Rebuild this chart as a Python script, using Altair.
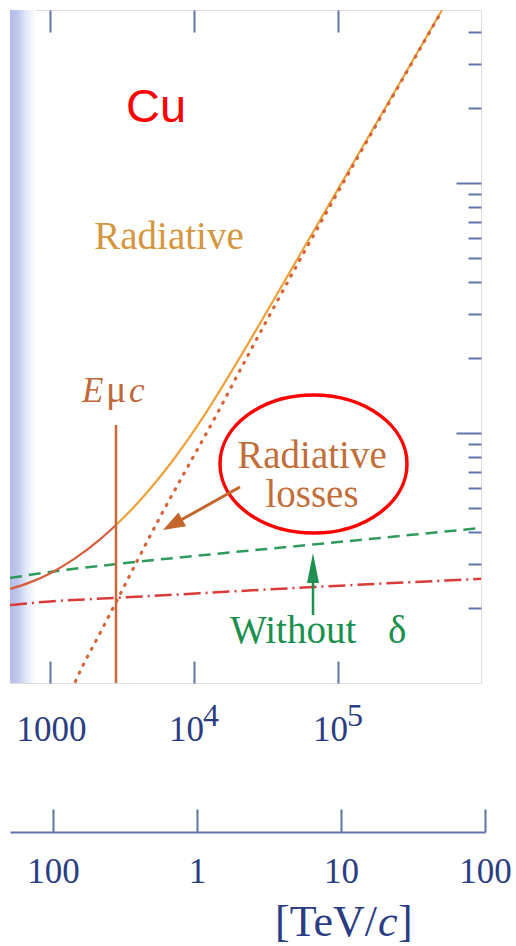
import altair as alt
import pandas as pd

# ---------------- values ----------------
# x: beta*gamma of the muon (log), y: stopping power (log, arbitrary units)
total_bg = [527.5, 726.3, 1000, 1492, 2225, 2873, 3771, 4948, 7382, 11007,
            18660, 29664, 54470, 121150, 269600, 527600]
total_val = [2.377, 2.526, 2.744, 3.150, 3.753, 4.285, 5.012, 5.970, 7.980, 11.07,
             18.03, 28.31, 51.76, 114.3, 252.4, 492.0]

rad_bg = [1421, 1492, 2225, 2920, 4019, 5806, 8942, 14444, 21892, 31623, 54470,
          121150, 269600, 527600]
rad_val = [0.94, 1.005, 1.583, 2.14, 3.07, 4.61, 7.24, 11.92, 18.78, 27.84, 49.39,
           111.9, 249.9, 489.5]

nodelta_bg = [527.5, 1000, 2873, 10000, 67060, 984130]
nodelta_val = [2.63, 2.78, 2.99, 3.22, 3.58, 4.17]

bethe_bg = [527.5, 1000, 2873, 67060, 984130]
bethe_val = [2.05, 2.12, 2.19, 2.42, 2.61]

E_MUC = 2873          # critical energy marker (beta*gamma)
EMUC_TOP = 10.76      # top of the E_muc line
BAND_END = 800        # end of the shaded band on the left

bg_ticks = [1000, 10000, 100000]
bg_exp = ["4", "5"]
bg_exp_at = [10000, 100000]
p_ticks = [100, 1000, 10000, 100000]          # momentum [GeV/c]
y_major = [10, 100]
y_minor = [2, 3, 4, 5, 6, 7, 8, 9, 20, 30, 40, 50, 60, 70, 80, 90, 200, 300, 400]

# ---------------- layout / style ----------------
W, H = 471, 673
XMIN, XMAX = 527.5, 984130
YMIN, YMAX = 1.0, 492.0
PMIN, PMAX = 50.27, 100000

AX = "#5f73ad"
LAB = "#2b3d82"
SERIF = "Liberation Serif"


def xs():
    return alt.Scale(type="log", domain=[XMIN, XMAX], nice=False)


def ps():
    return alt.Scale(type="log", domain=[PMIN, PMAX], range=[0, 475], nice=False)


ys = alt.Scale(type="log", domain=[YMIN, YMAX], nice=False)


def X(field="bg", axis=None):
    return alt.X(f"{field}:Q", scale=xs(), axis=axis)


def Y(field="v", axis=None):
    return alt.Y(f"{field}:Q", scale=ys, axis=axis)


def at(bg, v):
    return alt.Chart(pd.DataFrame({"bg": [bg], "v": [v]}))


bottom_axis = alt.Axis(
    orient="bottom", values=bg_ticks, offset=-22, tickSize=22, tickWidth=2,
    tickColor=AX, domain=False, grid=False, title=None,
    labelExpr="datum.value < 5000 ? '1000' : '10'",
    labelOffset={"condition": {"test": "datum.value > 5000", "value": -8}, "value": 1},
    labelFont=SERIF, labelFontSize=35, labelColor=LAB, labelPadding=29,
    labelFlush=False, labelOverlap=False, labelBound=False,
)
top_axis = alt.Axis(
    orient="top", values=bg_ticks, offset=-22, tickSize=22, tickWidth=2,
    tickColor=AX, domain=False, labels=False, grid=False, title=None,
)
y_major_axis = alt.Axis(
    orient="right", values=y_major, offset=-25, tickSize=25, tickWidth=2,
    tickColor=AX, domain=False, labels=False, grid=False, title=None,
)
y_minor_axis = alt.Axis(
    orient="right", values=y_minor, offset=-13, tickSize=13, tickWidth=2,
    tickColor=AX, domain=False, labels=False, grid=False, title=None,
)
p_tick_axis = alt.Axis(
    orient="bottom", values=p_ticks, offset=126, tickSize=23, tickWidth=2,
    tickColor=AX, domain=False, grid=False, title=None,
    labelExpr="datum.value < 500 ? '100' : format(datum.value / 1000, 'd')",
    labelFont=SERIF, labelFontSize=35, labelColor=LAB, labelPadding=22,
    labelFlush=False, labelOverlap=False, labelBound=False,
)
p_line_axis = alt.Axis(
    orient="bottom", offset=149, domain=True, domainColor=AX, domainWidth=2,
    ticks=False, labels=False, grid=False, title=None,
)

# ---------------- data frames ----------------
df_total = pd.DataFrame({"bg": total_bg, "v": total_val})
df_rad = pd.DataFrame({"bg": rad_bg, "v": rad_val})
df_nod = pd.DataFrame({"bg": nodelta_bg, "v": nodelta_val})
df_bethe = pd.DataFrame({"bg": bethe_bg, "v": bethe_val})
df_p = pd.DataFrame({"p": p_ticks})
df_exp = pd.DataFrame({"bg": bg_exp_at, "t": bg_exp})

# ---------------- layers ----------------
band = alt.Chart(pd.DataFrame({"x0": [XMIN], "x1": [BAND_END]})).mark_rect(
    color=alt.Gradient(
        gradient="linear", x1=0, x2=1, y1=0, y2=0,
        stops=[
            alt.GradientStop(offset=0, color="#b2bce7"),
            alt.GradientStop(offset=0.3, color="#bfc8ee"),
            alt.GradientStop(offset=0.62, color="#e3e8f8"),
            alt.GradientStop(offset=1, color="#ffffff"),
        ],
    )
).encode(x=alt.X("x0:Q", scale=xs(), axis=None), x2="x1:Q",
         y=alt.value(0), y2=alt.value(H))

green = alt.Chart(df_nod).mark_line(
    color="#2e9a5c", strokeWidth=2.5, strokeDash=[12, 7], clip=True,
    interpolate="monotone"
).encode(x=X(axis=bottom_axis), y=Y(), order="bg:Q")

red = alt.Chart(df_bethe).mark_line(
    color="#d93a3a", strokeWidth=2.5, strokeDash=[17, 5, 2, 5], clip=True,
    interpolate="monotone"
).encode(x=X(axis=top_axis), y=Y(), order="bg:Q")

total_low = alt.Chart(df_total).transform_filter(alt.datum.bg <= E_MUC).mark_line(
    color="#d65e3e", strokeWidth=2.2, clip=True, interpolate="monotone"
).encode(x=X(), y=Y(axis=y_major_axis), order="bg:Q")

total_high = alt.Chart(df_total).transform_filter(alt.datum.bg >= E_MUC).mark_line(
    color="#eba23a", strokeWidth=2.2, clip=True, interpolate="monotone"
).encode(x=X(), y=Y(axis=y_minor_axis), order="bg:Q")

rad = alt.Chart(df_rad).mark_line(
    color="#d4643a", strokeWidth=3.2, strokeDash=[1, 8], strokeCap="round",
    clip=True, interpolate="monotone"
).encode(x=X(), y=Y(), order="bg:Q")

emuc = alt.Chart(pd.DataFrame({"bg": [E_MUC], "v": [EMUC_TOP], "v2": [YMIN]})).mark_rule(
    color="#c8683a", strokeWidth=2.5
).encode(x=X(), y=Y(), y2="v2:Q")

ELLIPSE = ("M 1 0 C 1 0.4076 0.5523 0.738 0 0.738 C -0.5523 0.738 -1 0.4076 -1 0 "
           "C -1 -0.4076 -0.5523 -0.738 0 -0.738 C 0.5523 -0.738 1 -0.4076 1 0 Z")
ellipse = at(67600, 7.516).mark_point(
    shape=ELLIPSE, size=187 * 187, filled=False, stroke="#ff0000",
    strokeWidth=3.5, opacity=1
).encode(x=X(), y=Y())

HEAD_BROWN = "M 0 0 L 0.36 1 L -0.36 1 Z"
HEAD_GREEN = "M 0 0 L 0.2 1 L -0.2 1 Z"

brown_shaft = alt.Chart(pd.DataFrame({"bg": [20865], "v": [6.081], "bg2": [7035], "v2": [4.285]})).mark_rule(
    color="#c4662c", strokeWidth=3
).encode(x=X(), y=Y(), x2="bg2:Q", y2="v2:Q")
brown_head = at(6091, 4.093).mark_point(
    shape=HEAD_BROWN, size=44 * 44, angle=241, filled=True, color="#c4662c", opacity=1
).encode(x=X(), y=Y())

green_shaft = alt.Chart(pd.DataFrame({"bg": [67060], "v": [1.871], "v2": [2.831]})).mark_rule(
    color="#1f9050", strokeWidth=2.5
).encode(x=X(), y=Y(), y2="v2:Q")
green_head = at(67060, 3.311).mark_point(
    shape=HEAD_GREEN, size=60 * 60, angle=0, filled=True, color="#1f9050", opacity=1
).encode(x=X(), y=Y())

cu = at(5446, 175.4).mark_text(
    text="Cu", font="Liberation Sans", fontSize=47, color="#ff0000",
    align="center", baseline="alphabetic"
).encode(x=X(), y=Y())

rad_label = at(6705, 54.45).mark_text(
    text="Radiative", font=SERIF, fontSize=39, color="#d4963f",
    align="center", baseline="alphabetic"
).encode(x=X(), y=Y())

e_label = at(E_MUC, 13.30).mark_text(
    text="E", font=SERIF, fontSize=35, fontStyle="italic", color="#c0683a",
    align="left", baseline="alphabetic", dx=-34
).encode(x=X(), y=Y())
mu_label = at(E_MUC, 13.30).mark_text(
    text="μ", font=SERIF, fontSize=38, color="#c0683a",
    align="left", baseline="alphabetic", dx=-10
).encode(x=X(), y=Y())
c_label = at(E_MUC, 13.30).mark_text(
    text="c", font=SERIF, fontSize=35, fontStyle="italic", color="#c0683a",
    align="left", baseline="alphabetic", dx=13
).encode(x=X(), y=Y())

rl1 = at(65990, 7.244).mark_text(
    text="Radiative", font=SERIF, fontSize=39, color="#c26e3a",
    align="center", baseline="alphabetic"
).encode(x=X(), y=Y())
rl2 = at(65990, 5.058).mark_text(
    text="losses", font=SERIF, fontSize=39, color="#c26e3a",
    align="center", baseline="alphabetic"
).encode(x=X(), y=Y())

without = at(17783, 1.445).mark_text(
    text="Without", font=SERIF, fontSize=39, color="#1a8f4e",
    align="left", baseline="alphabetic"
).encode(x=X(), y=Y())
delta = at(222300, 1.445).mark_text(
    text="δ", font=SERIF, fontSize=39, color="#1a8f4e",
    align="left", baseline="alphabetic"
).encode(x=X(), y=Y())

exps = alt.Chart(df_exp).mark_text(
    font=SERIF, fontSize=32, color=LAB, align="left", baseline="alphabetic", dx=9
).encode(x=X(), y=alt.value(716), text="t:N")

p_ticks_layer = alt.Chart(df_p).mark_point(opacity=0).encode(
    x=alt.X("p:Q", scale=ps(), axis=p_tick_axis), y=alt.value(0))
p_line_layer = alt.Chart(df_p).mark_point(opacity=0).encode(
    x=alt.X("p:Q", scale=ps(), axis=p_line_axis), y=alt.value(0))

unit_anchor = pd.DataFrame({"p": [10000]})
unit1 = alt.Chart(unit_anchor).mark_text(
    text="[TeV/", font=SERIF, fontSize=44, color=LAB, align="right",
    baseline="alphabetic", dx=36
).encode(x=alt.X("p:Q", scale=ps(), axis=None), y=alt.value(926))
unit2 = alt.Chart(unit_anchor).mark_text(
    text="c", font=SERIF, fontSize=44, fontStyle="italic", color=LAB, align="left",
    baseline="alphabetic", dx=37
).encode(x=alt.X("p:Q", scale=ps(), axis=None), y=alt.value(926))
unit3 = alt.Chart(unit_anchor).mark_text(
    text="]", font=SERIF, fontSize=44, color=LAB, align="left",
    baseline="alphabetic", dx=57
).encode(x=alt.X("p:Q", scale=ps(), axis=None), y=alt.value(926))

chart = alt.layer(
    band, green, red, total_low, total_high, rad, emuc, ellipse,
    brown_shaft, brown_head, green_shaft, green_head,
    cu, rad_label, e_label, mu_label, c_label, rl1, rl2, without, delta,
    exps, p_ticks_layer, p_line_layer, unit1, unit2, unit3,
).properties(
    width=W, height=H,
    padding={"left": 10, "top": 10, "right": 35, "bottom": 263},
    autosize=alt.AutoSizeParams(type="none"),
).resolve_scale(x="independent").resolve_axis(
    x="independent", y="independent"
).configure_view(stroke=AX, strokeWidth=2).configure(background="white")

chart.save("out.html", embed_options={"renderer": "svg", "actions": False})
